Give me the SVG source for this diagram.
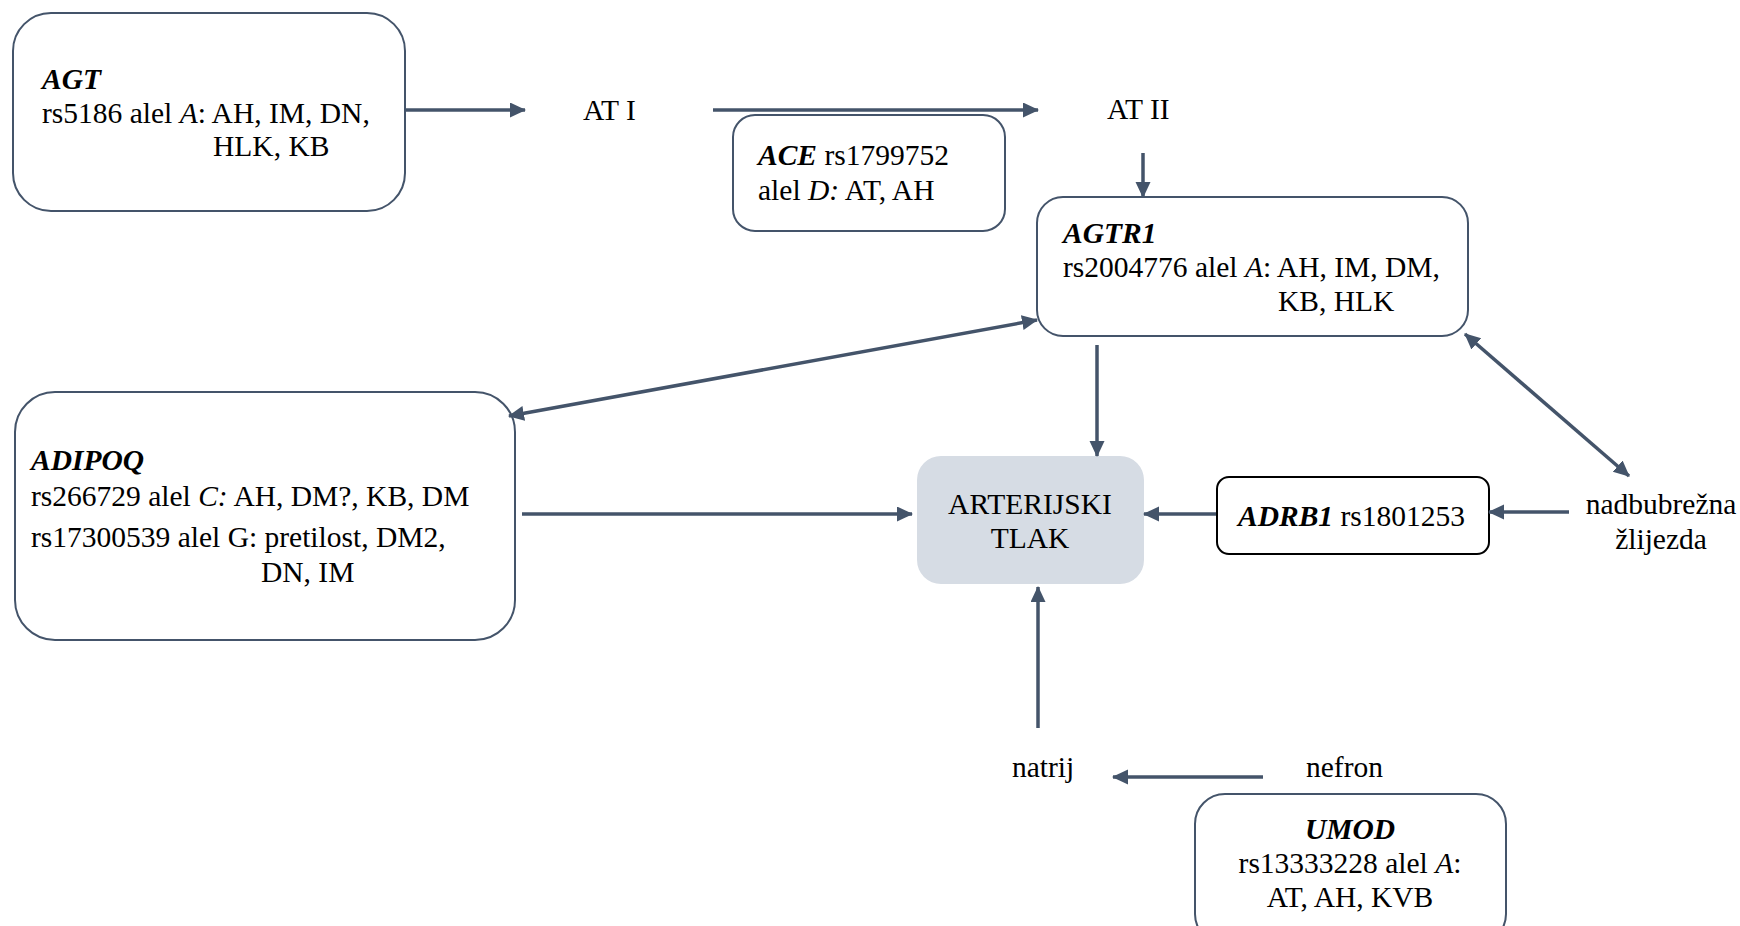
<svg xmlns="http://www.w3.org/2000/svg" width="1740" height="926" viewBox="0 0 1740 926">
<style>
.box{fill:#fff;stroke:#44546a;stroke-width:2}
.t{font-family:"Liberation Serif","Times New Roman",serif;font-size:29.5px;fill:#000}
.bi{font-weight:bold;font-style:italic}
.i{font-style:italic}
.c{text-anchor:middle}
.con line{stroke:#44546a;stroke-width:3.5;fill:none}
</style>
<defs>
<marker id="ah" markerUnits="userSpaceOnUse" markerWidth="16" markerHeight="16" refX="15" refY="7.5" orient="auto-start-reverse" viewBox="0 0 16 16">
<path d="M0,0 L16,7.5 L0,15 z" fill="#44546a"/>
</marker>
</defs>
<rect width="1740" height="926" fill="#fff"/>
<g id="agt">
<rect class="box" x="13" y="13" width="392" height="198" rx="38"/>
<text class="t" x="42" y="89"><tspan class="bi">AGT</tspan></text>
<text class="t" x="42" y="123">rs5186 alel <tspan class="i">A</tspan>: AH, IM, DN,</text>
<text class="t" x="213" y="156">HLK, KB</text>
</g>
<g id="at1"><text class="t" x="583" y="120">AT I</text></g>
<g id="at2"><text class="t" x="1107" y="119">AT II</text></g>
<g id="ace">
<rect class="box" x="733" y="115" width="272" height="116" rx="22"/>
<text class="t" x="758" y="165"><tspan class="bi">ACE</tspan> rs1799752</text>
<text class="t" x="758" y="200">alel <tspan class="i">D:</tspan> AT, AH</text>
</g>
<g id="agtr1">
<rect class="box" x="1037" y="197" width="431" height="139" rx="26"/>
<text class="t" x="1063" y="243"><tspan class="bi">AGTR1</tspan></text>
<text class="t" x="1063" y="277">rs2004776 alel <tspan class="i">A</tspan>: AH, IM, DM,</text>
<text class="t" x="1278" y="311">KB, HLK</text>
</g>
<g id="adipoq">
<rect class="box" x="15" y="392" width="500" height="248" rx="40"/>
<text class="t" x="31" y="470"><tspan class="bi">ADIPOQ</tspan></text>
<text class="t" x="31" y="506">rs266729 alel <tspan class="i">C:</tspan> AH, DM?, KB, DM</text>
<text class="t" x="31" y="547">rs17300539 alel G: pretilost, DM2,</text>
<text class="t" x="261" y="582">DN, IM</text>
</g>
<g id="tlak">
<rect x="917" y="456" width="227" height="128" rx="24" fill="#d6dce4"/>
<text class="t c" x="1030" y="514">ARTERIJSKI</text>
<text class="t c" x="1030" y="548">TLAK</text>
</g>
<g id="adrb1">
<rect x="1217" y="477" width="272" height="77" rx="12" fill="#fff" stroke="#000" stroke-width="2"/>
<text class="t" x="1238" y="526"><tspan class="bi">ADRB1</tspan> rs1801253</text>
</g>
<g id="nadbubrezna">
<text class="t c" x="1661" y="514">nadbubrežna</text>
<text class="t c" x="1661" y="549">žlijezda</text>
</g>
<g id="natrij"><text class="t" x="1012" y="777">natrij</text></g>
<g id="nefron"><text class="t" x="1306" y="777">nefron</text></g>
<g id="umod">
<rect class="box" x="1195" y="794" width="311" height="150" rx="30"/>
<text class="t c" x="1350" y="839"><tspan class="bi">UMOD</tspan></text>
<text class="t c" x="1350" y="873">rs13333228 alel <tspan class="i">A</tspan>:</text>
<text class="t c" x="1350" y="907">AT, AH, KVB</text>
</g>
<g id="connectors" class="con">
<line x1="406" y1="110" x2="525" y2="110" marker-end="url(#ah)"/>
<line x1="713" y1="110" x2="1038" y2="110" marker-end="url(#ah)"/>
<line x1="1143" y1="153" x2="1143" y2="197" marker-end="url(#ah)"/>
<line x1="1037" y1="320" x2="509" y2="416" marker-start="url(#ah)" marker-end="url(#ah)"/>
<line x1="1097" y1="345" x2="1097" y2="456" marker-end="url(#ah)"/>
<line x1="1465" y1="334" x2="1629" y2="476" marker-start="url(#ah)" marker-end="url(#ah)"/>
<line x1="522" y1="514" x2="912" y2="514" marker-end="url(#ah)"/>
<line x1="1216" y1="514" x2="1144" y2="514" marker-end="url(#ah)"/>
<line x1="1569" y1="512" x2="1489" y2="512" marker-end="url(#ah)"/>
<line x1="1038" y1="728" x2="1038" y2="587" marker-end="url(#ah)"/>
<line x1="1263" y1="777" x2="1113" y2="777" marker-end="url(#ah)"/>
</g>
</svg>
